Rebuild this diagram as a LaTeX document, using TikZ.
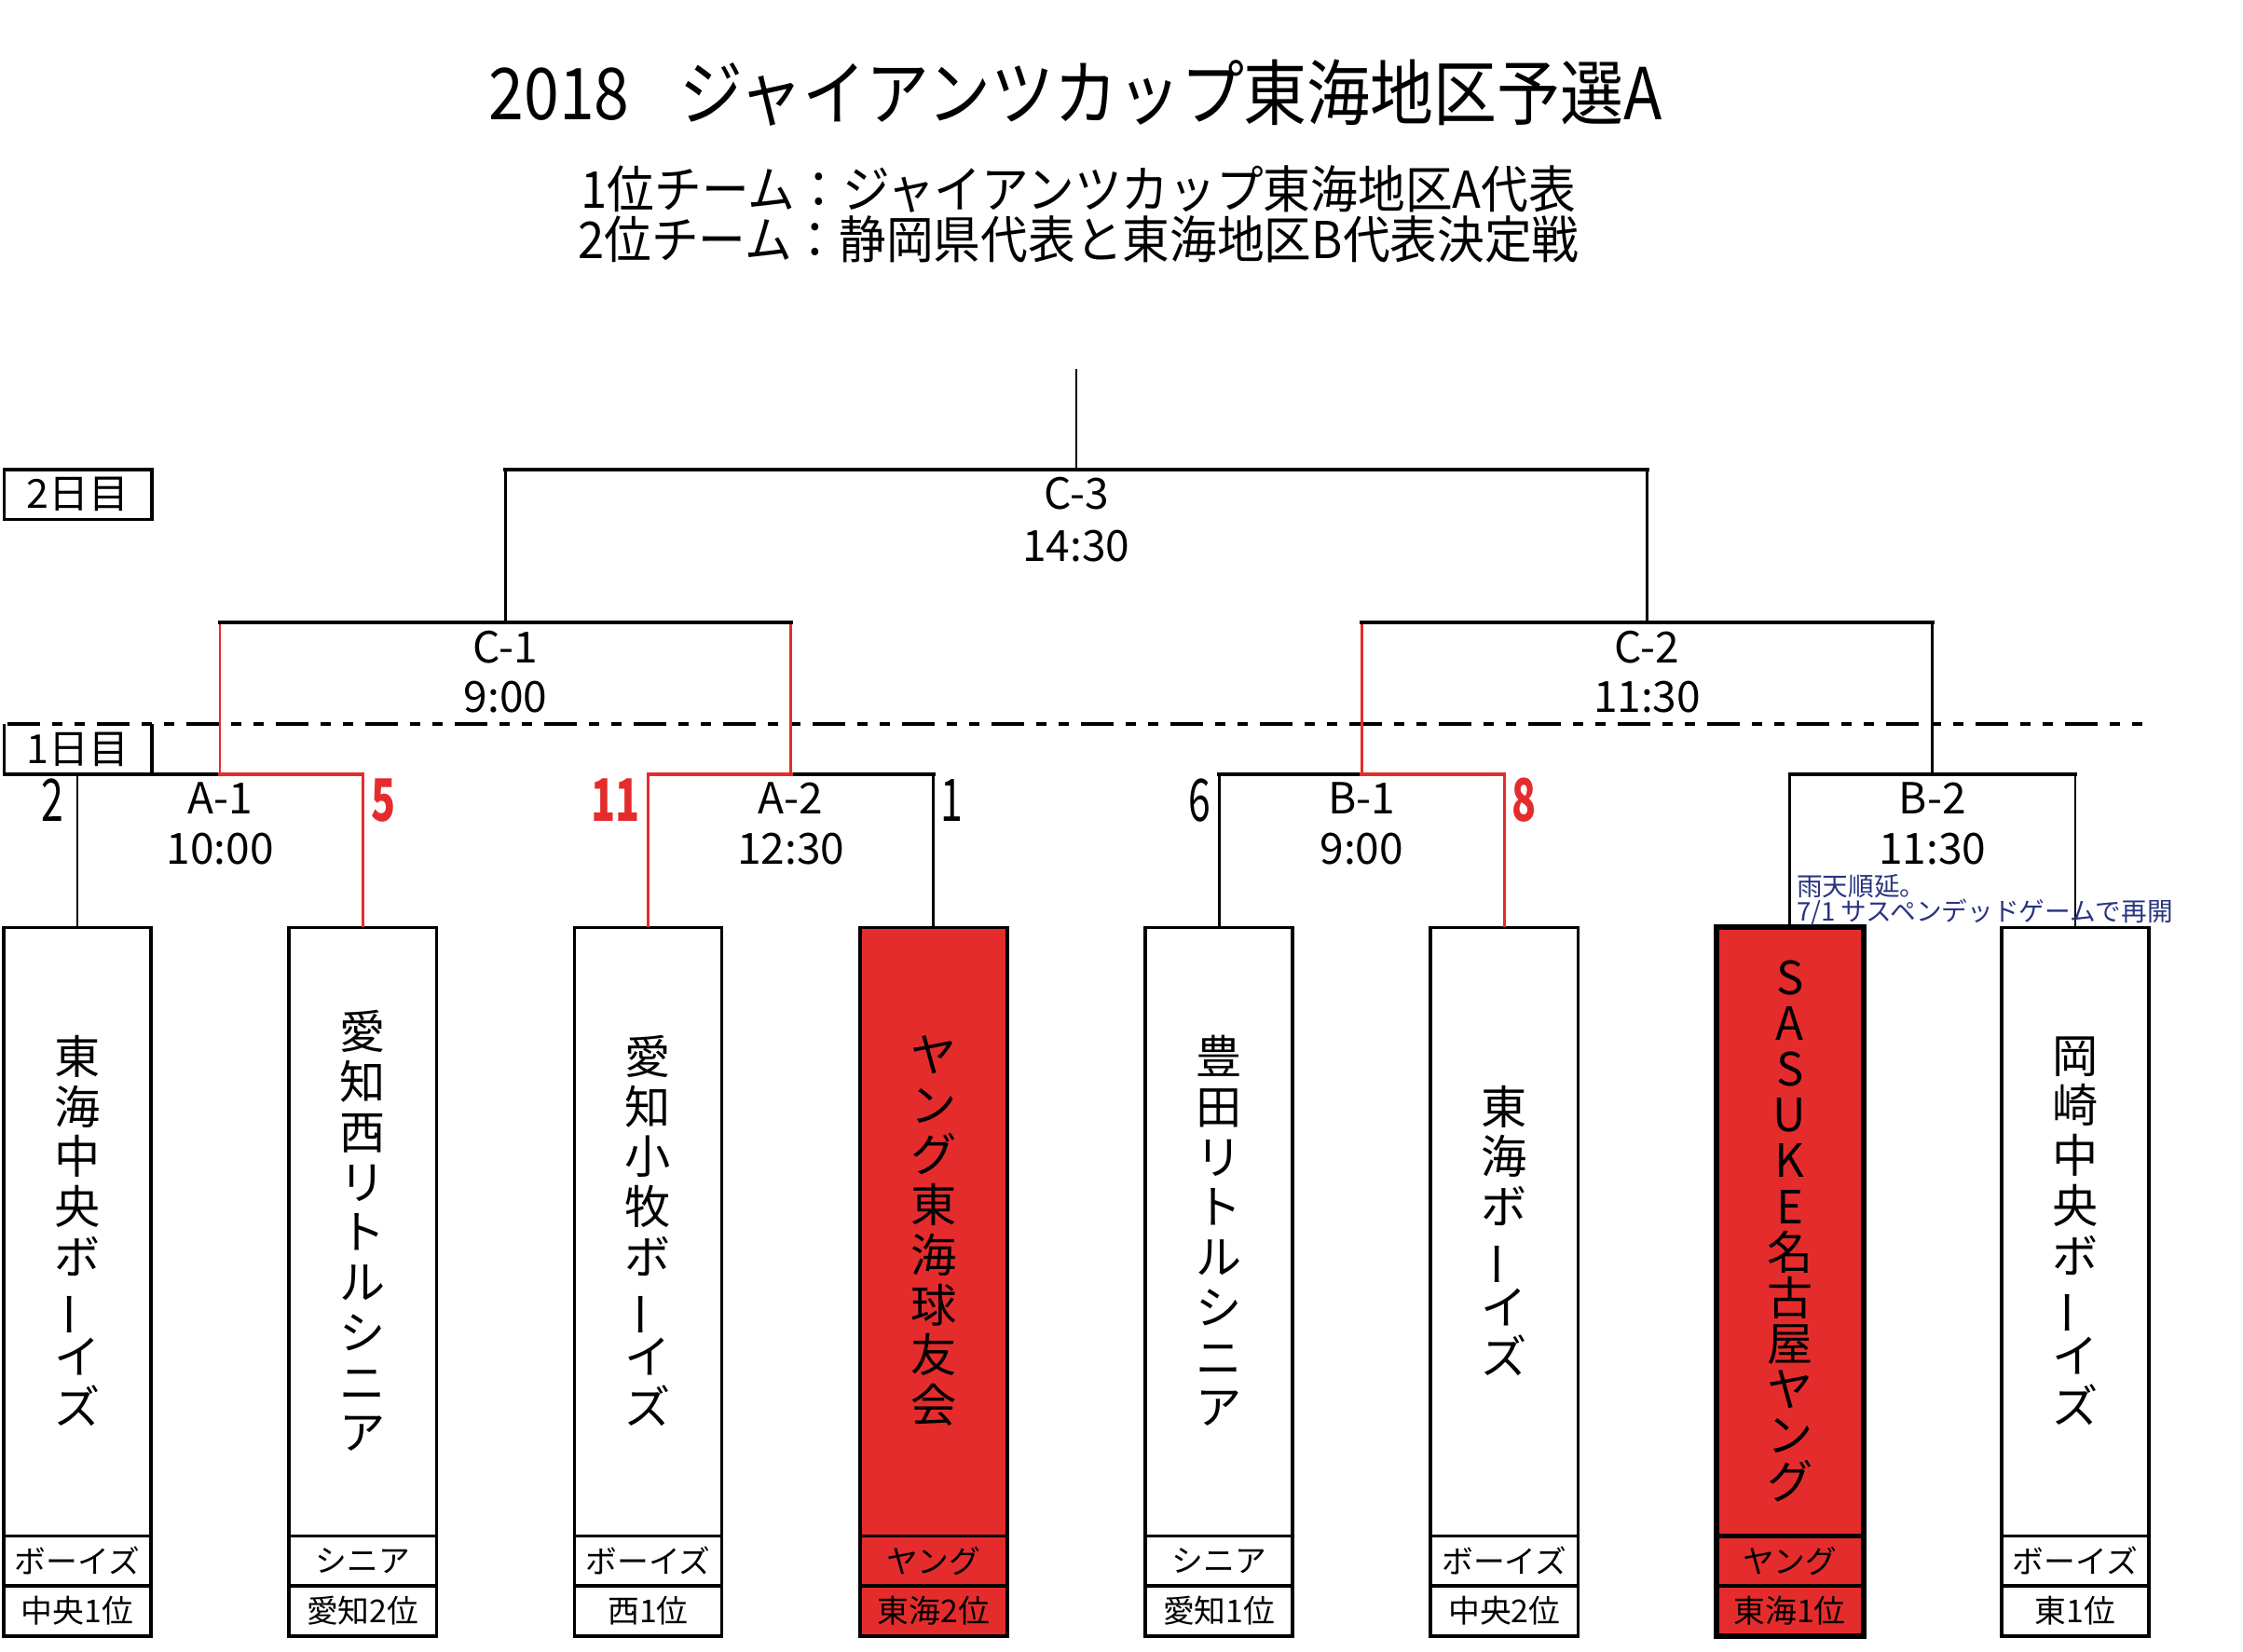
\documentclass[tikz,border=0pt]{standalone}
\usepackage{fontspec}
\usepackage{graphicx}
\setmainfont{Noto Sans CJK JP}
\newfontfamily\titlefont{Noto Sans CJK JP}[FakeStretch=0.885]
\newfontfamily\subfont{Noto Sans CJK JP}[FakeStretch=0.93]
\newfontfamily\scorefont{Noto Sans CJK JP}[FakeStretch=0.68]
\definecolor{winred}{RGB}{229,44,44}
\definecolor{notenavy}{RGB}{40,52,128}
\newcommand{\fsize}[2]{\fontsize{#1pt}{#2pt}\selectfont}
\newcommand{\vchoon}{\rotatebox[origin=c]{90}{ー}}

\tikzset{
  hline/.style = {line width=2.6pt, line cap=rect},
  vline/.style = {line width=1.8pt},
  win/.style = {draw=winred},
  team/.style = {draw, line width=2.4pt, minimum width=103pt, minimum height=495pt, inner sep=0pt, outer sep=0pt},
  divider/.style = {line width=2.2pt},
  teamname/.style = {align=center, inner sep=0pt, font={\fsize{32}{35}}},
  tagline/.style = {inner sep=0pt, font={\fsize{22}{22}}},
  matchlbl/.style = {align=center, inner sep=0pt, font={\fsize{30}{35}}},
  scorelbl/.style = {inner sep=0pt, font={\scorefont\fsize{41}{41}}},
  winscore/.style = {inner sep=0pt, text=winred, font={\scorefont\bfseries\fsize{41}{41}}},
  daybox/.style = {minimum width=103pt, minimum height=35pt, inner sep=0pt, outer sep=0pt, font={\fsize{28}{28}}},
  notelbl/.style = {align=left, inner sep=0pt, text=notenavy, font={\fsize{18}{17}}},
}

\begin{document}
\begin{tikzpicture}[x=1pt, y=-1pt]
  \useasboundingbox (0,0) rectangle (1567,1154);

  %%% headings %%%
  \node[font={\titlefont\fsize{50}{50}}] (title) at (751.5,65) {2018\hspace{35pt}ジャイアンツカップ東海地区予選A};
  \node[align=center, font={\subfont\fsize{35.5}{35}}] (sub) at (753.5,149.5) {1位チーム：ジャイアンツカップ東海地区A代表\\2位チーム：静岡県代表と東海地区B代表決定戦};

  %%% days %%%
  \node[daybox, draw, line width=2.4pt] (day2) at (54.5,345.5) {2日目};
  \node[daybox] (day1) at (54.5,523.5) {1日目};
  \draw[line width=2.4pt] (day1.north west) -- (day1.south west);
  \draw[line width=2.4pt] (day1.north east) -- (day1.south east);
  \draw[line width=2.6pt, dash pattern=on 22.8pt off 8.6pt on 7.2pt off 8.5pt on 7.2pt off 8.2pt] (5,506) -- (1500,506);

  %%% team boxes %%%
  \node[team] (t1) at (54,895.5) {};
  \node[team] (t2) at (253.4,895.5) {};
  \node[team] (t3) at (452.8,895.5) {};
  \node[team, fill=winred] (t4) at (652.2,895.5) {};
  \node[team] (t5) at (851.6,895.5) {};
  \node[team] (t6) at (1051,895.5) {};
  \node[team, fill=winred, line width=4pt] (t7) at (1250.4,895.5) {};
  \node[team] (t8) at (1449.8,895.5) {};
  % dividers
  \draw[divider] (t1.west |- 0,1073) -- (t1.east |- 0,1073) (t1.west |- 0,1108) -- (t1.east |- 0,1108);
  \draw[divider] (t2.west |- 0,1073) -- (t2.east |- 0,1073) (t2.west |- 0,1108) -- (t2.east |- 0,1108);
  \draw[divider] (t3.west |- 0,1073) -- (t3.east |- 0,1073) (t3.west |- 0,1108) -- (t3.east |- 0,1108);
  \draw[divider] (t4.west |- 0,1073) -- (t4.east |- 0,1073) (t4.west |- 0,1108) -- (t4.east |- 0,1108);
  \draw[divider] (t5.west |- 0,1073) -- (t5.east |- 0,1073) (t5.west |- 0,1108) -- (t5.east |- 0,1108);
  \draw[divider] (t6.west |- 0,1073) -- (t6.east |- 0,1073) (t6.west |- 0,1108) -- (t6.east |- 0,1108);
  \draw[divider, line width=3pt] (t7.west |- 0,1073) -- (t7.east |- 0,1073) (t7.west |- 0,1108) -- (t7.east |- 0,1108);
  \draw[divider] (t8.west |- 0,1073) -- (t8.east |- 0,1073) (t8.west |- 0,1108) -- (t8.east |- 0,1108);

  % team names
  \node[teamname] (n1) at (54,860) {東\\海\\中\\央\\ボ\\\vchoon\\イ\\ズ};
  \node[teamname] (n2) at (253.4,860) {愛\\知\\西\\リ\\ト\\ル\\シ\\ニ\\ア};
  \node[teamname] (n3) at (452.8,860) {愛\\知\\小\\牧\\ボ\\\vchoon\\イ\\ズ};
  \node[teamname] (n4) at (652.2,860) {ヤ\\ン\\グ\\東\\海\\球\\友\\会};
  \node[teamname] (n5) at (851.6,860) {豊\\田\\リ\\ト\\ル\\シ\\ニ\\ア};
  \node[teamname] (n6) at (1051,860) {東\\海\\ボ\\\vchoon\\イ\\ズ};
  \node[teamname, font={\fsize{32}{32}}] (n7) at (1250.4,860) {S\\A\\S\\U\\K\\E\\名\\古\\屋\\ヤ\\ン\\グ};
  \node[teamname] (n8) at (1449.8,860) {岡\\崎\\中\\央\\ボ\\\vchoon\\イ\\ズ};

  % league and place
  \node[tagline] (g1) at (54,1090.5) {ボーイズ};
  \node[tagline] (r1) at (54,1125.5) {中央1位};
  \node[tagline] (g2) at (253.4,1090.5) {シニア};
  \node[tagline] (r2) at (253.4,1125.5) {愛知2位};
  \node[tagline] (g3) at (452.8,1090.5) {ボーイズ};
  \node[tagline] (r3) at (452.8,1125.5) {西1位};
  \node[tagline] (g4) at (652.2,1090.5) {ヤング};
  \node[tagline] (r4) at (652.2,1125.5) {東海2位};
  \node[tagline] (g5) at (851.6,1090.5) {シニア};
  \node[tagline] (r5) at (851.6,1125.5) {愛知1位};
  \node[tagline] (g6) at (1051,1090.5) {ボーイズ};
  \node[tagline] (r6) at (1051,1125.5) {中央2位};
  \node[tagline] (g7) at (1250.4,1090.5) {ヤング};
  \node[tagline] (r7) at (1250.4,1125.5) {東海1位};
  \node[tagline] (g8) at (1449.8,1090.5) {ボーイズ};
  \node[tagline] (r8) at (1449.8,1125.5) {東1位};

  %%% bracket %%%
  \coordinate (A1) at (153.7,541);
  \coordinate (A2) at (552.5,541);
  \coordinate (B1) at (951.3,541);
  \coordinate (B2) at (1350.1,541);
  \coordinate (C1) at (353.1,435);
  \coordinate (C2) at (1150.7,435);
  \coordinate (C3) at (751.9,328);
  \coordinate (top) at (751.9,258);

  % round 1
  \draw[hline] (day1.south west) -- (A1);
  \draw[vline] (t1.north) -- (t1.north |- A1);
  \draw[vline, win] (t2.north) -- (t2.north |- A1);
  \draw[hline, win] (A1) -- (A1 -| t2.north);
  \draw[hline] (A2) -- (A2 -| t4.north);
  \draw[vline] (t4.north) -- (t4.north |- A2);
  \draw[vline, win] (t3.north) -- (t3.north |- A2);
  \draw[hline, win] (A2) -- (A2 -| t3.north);
  \draw[hline] (B1) -- (B1 -| t5.north);
  \draw[vline] (t5.north) -- (t5.north |- B1);
  \draw[vline, win] (t6.north) -- (t6.north |- B1);
  \draw[hline, win] (B1) -- (B1 -| t6.north);
  \draw[hline] (B2 -| t7.north) -- (B2 -| t8.north);
  \draw[vline] (t7.north) -- (t7.north |- B2);
  \draw[vline] (t8.north) -- (t8.north |- B2);
  % round 2
  \draw[vline, win] (A1) -- (A1 |- C1);
  \draw[vline, win] (A2) -- (A2 |- C1);
  \draw[hline] (A1 |- C1) -- (A2 |- C1);
  \draw[vline, win] (B1) -- (B1 |- C2);
  \draw[vline] (B2) -- (B2 |- C2);
  \draw[hline] (B1 |- C2) -- (B2 |- C2);
  % final
  \draw[vline] (C1) -- (C1 |- C3);
  \draw[vline] (C2) -- (C2 |- C3);
  \draw[hline] (C1 |- C3) -- (C2 |- C3);
  \draw[vline] (C3) -- (top);

  %%% match labels %%%
  \node[matchlbl, font={\fsize{30}{36}}] (m3) at (751.9,363) {C-3\\14:30};
  \node[matchlbl] (m1) at (353.1,469.5) {C-1\\9:00};
  \node[matchlbl] (m2) at (1150.7,469.5) {C-2\\11:30};
  \node[matchlbl] (a1) at (153.7,575.5) {A-1\\10:00};
  \node[matchlbl] (a2) at (552.5,575.5) {A-2\\12:30};
  \node[matchlbl] (b1) at (951.3,575.5) {B-1\\9:00};
  \node[matchlbl] (b2) at (1350.1,575.5) {B-2\\11:30};

  % scores
  \node[scorelbl] (s1) at (37,559) {2};
  \node[winscore] (s2) at (268,559) {5};
  \node[winscore] (s3) at (430,559) {11};
  \node[scorelbl] (s4) at (665,559) {1};
  \node[scorelbl] (s5) at (838,559) {6};
  \node[winscore] (s6) at (1065,559) {8};

  % postponed game
  \node[notelbl, anchor=north west] (memo) at (1255,611) {雨天順延。\\7/1 サスペンデッドゲームで再開};
\end{tikzpicture}
\end{document}
